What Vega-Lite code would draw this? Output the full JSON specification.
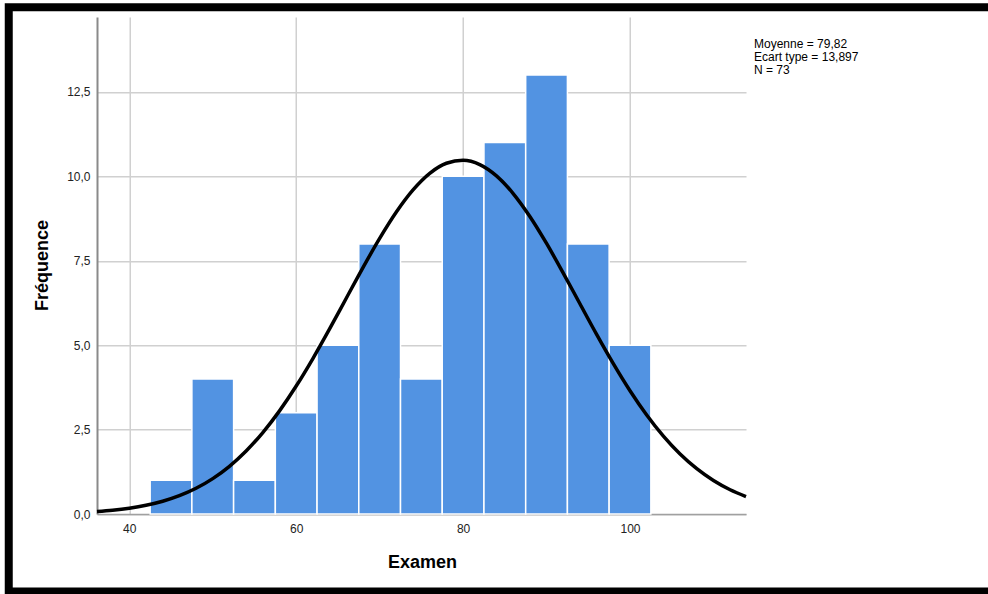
{
  "$schema": "https://vega.github.io/schema/vega-lite/v6.json",
  "width": 979.25,
  "height": 584.25,
  "autosize": {"type": "none"},
  "padding": {"left": 8.75, "top": 7.25, "right": 0, "bottom": 2.5},
  "background": "white",
  "config": {
    "locale": {"number": {"decimal": ",", "thousands": ".", "grouping": [3], "currency": ["", " €"]}},
    "view": {"stroke": "black", "strokeWidth": 8, "strokeDash": [979.25, 584.25, 1563.5]},
    "font": "Liberation Sans"
  },
  "datasets": {
    "bins": [
      {"bin_start": 42.5, "bin_end": 47.5, "count": 1},
      {"bin_start": 47.5, "bin_end": 52.5, "count": 4},
      {"bin_start": 52.5, "bin_end": 57.5, "count": 1},
      {"bin_start": 57.5, "bin_end": 62.5, "count": 3},
      {"bin_start": 62.5, "bin_end": 67.5, "count": 5},
      {"bin_start": 67.5, "bin_end": 72.5, "count": 8},
      {"bin_start": 72.5, "bin_end": 77.5, "count": 4},
      {"bin_start": 77.5, "bin_end": 82.5, "count": 10},
      {"bin_start": 82.5, "bin_end": 87.5, "count": 11},
      {"bin_start": 87.5, "bin_end": 92.5, "count": 13},
      {"bin_start": 92.5, "bin_end": 97.5, "count": 8},
      {"bin_start": 97.5, "bin_end": 102.5, "count": 5}
    ],
    "curve": [
      {"x": 36.13, "y": 0.0748},
      {"x": 38, "y": 0.1132},
      {"x": 40, "y": 0.1727},
      {"x": 42, "y": 0.2582},
      {"x": 44, "y": 0.3781},
      {"x": 46, "y": 0.5424},
      {"x": 48, "y": 0.7619},
      {"x": 50, "y": 1.0483},
      {"x": 52, "y": 1.4129},
      {"x": 54, "y": 1.8652},
      {"x": 56, "y": 2.4115},
      {"x": 58, "y": 3.0544},
      {"x": 60, "y": 3.7895},
      {"x": 62, "y": 4.6049},
      {"x": 64, "y": 5.4813},
      {"x": 66, "y": 6.3901},
      {"x": 68, "y": 7.2978},
      {"x": 70, "y": 8.1629},
      {"x": 72, "y": 8.9439},
      {"x": 74, "y": 9.5983},
      {"x": 76, "y": 10.0896},
      {"x": 78, "y": 10.3885},
      {"x": 80, "y": 10.4772},
      {"x": 82, "y": 10.3499},
      {"x": 84, "y": 10.0146},
      {"x": 86, "y": 9.4915},
      {"x": 88, "y": 8.8113},
      {"x": 90, "y": 8.0122},
      {"x": 92, "y": 7.1362},
      {"x": 94, "y": 6.2259},
      {"x": 96, "y": 5.3202},
      {"x": 98, "y": 4.4531},
      {"x": 100, "y": 3.6508},
      {"x": 102, "y": 2.9317},
      {"x": 104, "y": 2.3061},
      {"x": 106, "y": 1.7765},
      {"x": 108, "y": 1.3409},
      {"x": 110, "y": 0.9911},
      {"x": 112, "y": 0.7175},
      {"x": 113.9, "y": 0.518}
    ]
  },
  "layer": [
    {
      "data": {"name": "bins"},
      "mark": {"type": "rect", "fill": "#5293e2", "stroke": "white", "strokeWidth": 1.5},
      "encoding": {
        "x": {
          "field": "bin_start", "type": "quantitative",
          "scale": {"domain": [36.13, 113.9], "range": [88.25, 737.25], "nice": false, "zero": false},
          "axis": {
            "orient": "top", "offset": -506.75, "values": [40, 60, 80, 100], "format": "d",
            "ticks": false, "tickSize": 0, "labelPadding": -14, "labelBaseline": "middle", "labelFlush": false,
            "labelFontSize": 12, "labelColor": "#222222", "labelFont": "Liberation Sans",
            "domainColor": "#a0a0a0", "domainWidth": 1.5,
            "grid": true, "gridColor": "#d0d0d0", "gridWidth": 1.5,
            "title": "Examen", "titleFont": "Liberation Sans", "titleFontSize": 18, "titleFontWeight": "bold", "titleColor": "#000000",
            "titleX": 413.25, "titleY": 48, "titleBaseline": "middle", "titleAlign": "center", "titleAngle": 0
          }
        },
        "x2": {"field": "bin_end"},
        "y": {
          "field": "count", "type": "quantitative",
          "scale": {"domain": [0, 14.72], "range": [506.75, 9.75], "nice": false, "zero": false},
          "axis": {
            "orient": "left", "offset": -88.25, "values": [0, 2.5, 5, 7.5, 10, 12.5], "format": ".1f",
            "ticks": false, "tickSize": 0, "labelPadding": 7, "labelFlush": false,
            "labelFontSize": 12, "labelColor": "#222222", "labelFont": "Liberation Sans",
            "domainColor": "#8a8a8a", "domainWidth": 2,
            "grid": true, "gridColor": "#d0d0d0", "gridWidth": 1.5,
            "title": "Fréquence", "titleFont": "Liberation Sans", "titleFontSize": 18, "titleFontWeight": "bold", "titleColor": "#000000",
            "titleX": -55, "titleY": 257.75, "titleAngle": -90, "titleAlign": "center", "titleBaseline": "middle"
          }
        },
        "y2": {"datum": 0}
      }
    },
    {
      "data": {"name": "curve"},
      "mark": {"type": "line", "color": "#000000", "strokeWidth": 3.5, "interpolate": "monotone"},
      "encoding": {
        "x": {"field": "x", "type": "quantitative"},
        "y": {"field": "y", "type": "quantitative"}
      }
    },
    {
      "data": {"values": [{}]},
      "mark": {"type": "text", "align": "left", "baseline": "top", "fontSize": 12, "lineHeight": 13, "color": "#000000", "font": "Liberation Sans"},
      "encoding": {
        "x": {"datum": 114.86, "type": "quantitative"},
        "y": {"datum": 14.06, "type": "quantitative"},
        "text": {"value": ["Moyenne = 79,82", "Ecart type = 13,897", "N = 73"]}
      }
    }
  ]
}
